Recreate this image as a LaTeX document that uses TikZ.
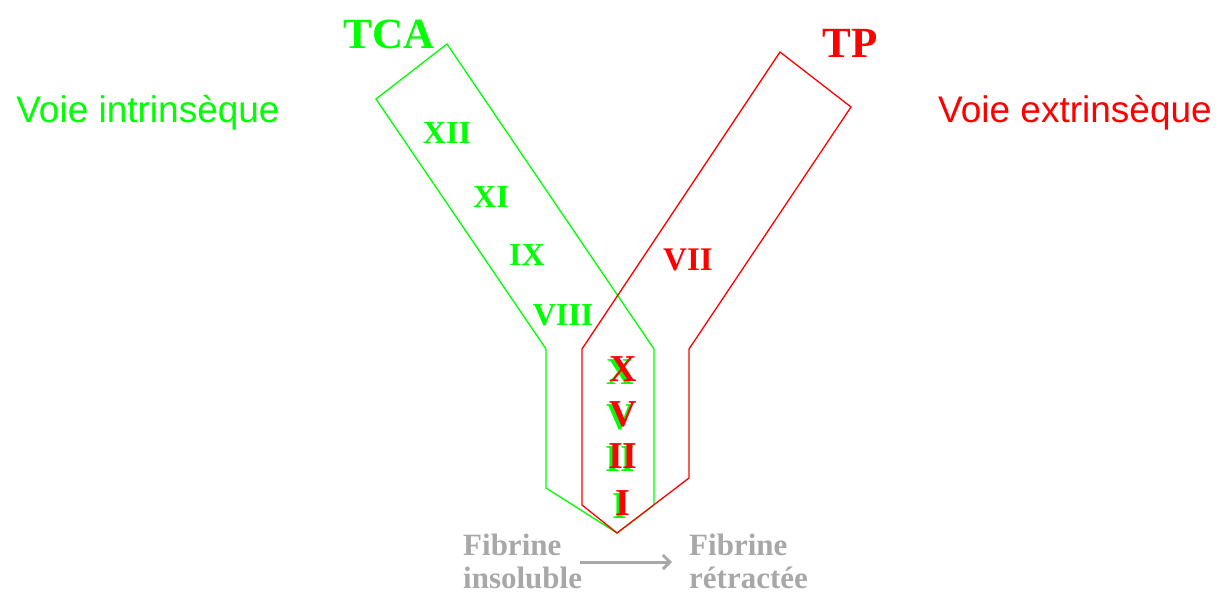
\documentclass[tikz,border=0pt]{standalone}
\usepackage{fontspec}
\setmainfont{Liberation Serif}
\newfontfamily\sansf{Liberation Sans}
\usetikzlibrary{arrows.meta}
\definecolor{vgreen}{RGB}{0,255,0}
\definecolor{vred}{RGB}{255,0,0}
\definecolor{fgray}{RGB}{168,168,168}
\tikzset{
  roman/.style={font=\fontsize{32}{32}\selectfont\bfseries, inner sep=0pt, anchor=base},
  bigroman/.style={font=\fontsize{38}{38}\selectfont\bfseries, inner sep=0pt, anchor=base},
  title/.style={font=\fontsize{43}{43}\selectfont\bfseries, inner sep=0pt, anchor=base},
  voie/.style={font=\sansf\fontsize{37}{37}\selectfont, inner sep=0pt, anchor=base},
  fib/.style={font=\fontsize{31}{31}\selectfont\bfseries, text=fgray, inner sep=0pt, anchor=base west},
  path/.style={line width=1.3pt, line join=miter}
}
\begin{document}
\begin{tikzpicture}[x=1pt,y=-1pt]
\useasboundingbox (0,0) rectangle (1232,603);
% green pathway
\draw[path, vgreen] (447,44) -- (376,99) -- (546,349) -- (546,488) -- (617,533) -- (654,505) -- (654,349) -- cycle;
% red pathway
\draw[path, vred] (780,52) -- (851,107) -- (689,349) -- (689,478) -- (617,533) -- (582,505) -- (582,349) -- cycle;
% titles
\node[title, text=vgreen] (tca) at (389,48) {TCA};
\node[title, text=vred] (tp) at (850,57) {TP};
\node[voie, text=vgreen] (vi) at (148,122) {Voie intrinsèque};
\node[voie, text=vred] (ve) at (1075,122) {Voie extrinsèque};
% green factors
\node[roman, text=vgreen] (f12) at (447,143) {XII};
\node[roman, text=vgreen] (f11) at (491,207) {XI};
\node[roman, text=vgreen] (f9) at (527,265) {IX};
\node[roman, text=vgreen] (f8) at (563,325) {VIII};
\node[roman, text=vred, font=\fontsize{33}{33}\selectfont\bfseries] (f7) at (688,270) {VII};
% common pathway
\node[bigroman, text=vgreen] (g10) at (620,384) {X};
\node[bigroman, text=vgreen] (g5) at (620,429) {V};
\node[bigroman, text=vgreen] (g2) at (620,471) {II};
\node[bigroman, text=vgreen] (g1) at (620,518) {I};
\node[bigroman, text=vred] (r10) at (623,381) {X};
\node[bigroman, text=vred] (r5) at (623,426) {V};
\node[bigroman, text=vred] (r2) at (623,468) {II};
\node[bigroman, text=vred] (r1) at (623,515) {I};
% fibrin
\node[fib] (fa1) at (463,555) {Fibrine};
\node[fib] (fa2) at (463,588) {insoluble};
\node[fib] (fb1) at (689,555) {Fibrine};
\node[fib] (fb2) at (689,588) {rétractée};
\coordinate (as) at (580,562);
\coordinate (ae) at (672,562);
\draw[fgray, line width=3pt, -{Straight Barb[length=7pt,width=14pt]}] (as) -- (ae);
\end{tikzpicture}
\end{document}
